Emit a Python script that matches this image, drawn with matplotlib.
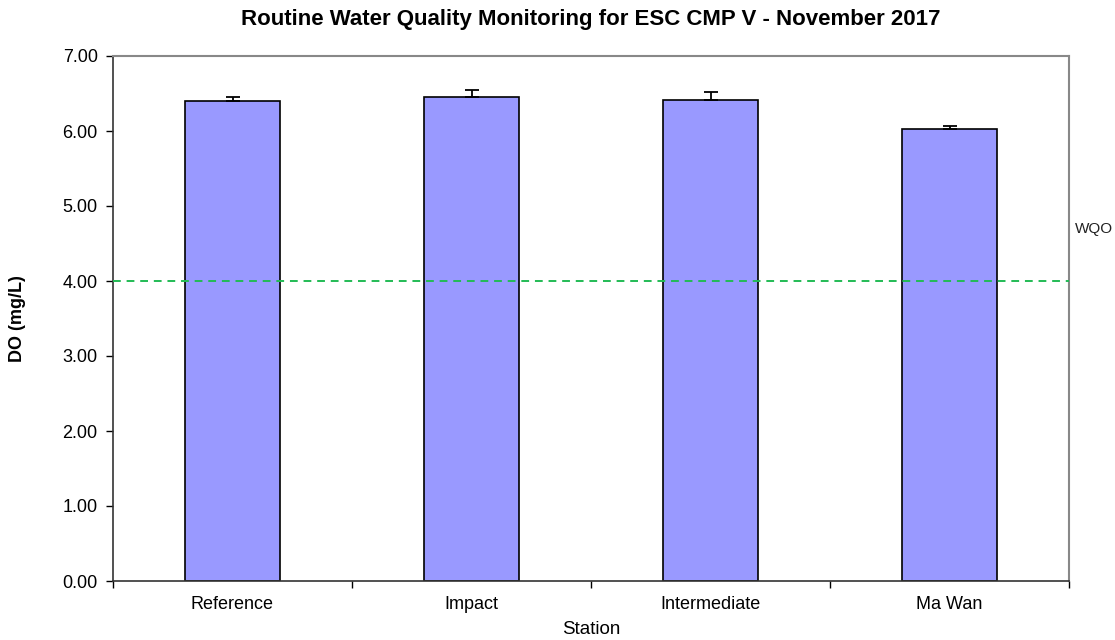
import matplotlib
matplotlib.use("Agg")
import matplotlib.pyplot as plt
import numpy as np

stations = ["Reference", "Impact", "Intermediate", "Ma Wan"]
do_mean = [6.40, 6.45, 6.42, 6.03]
do_err = [0.06, 0.10, 0.10, 0.04]
wqo = 4.0
yticks = [0, 1, 2, 3, 4, 5, 6, 7]

plt.rcParams['font.family'] = ['Liberation Sans', 'DejaVu Sans']

fig = plt.figure(figsize=(11.15, 6.4), dpi=100)
ax = fig.add_axes([113/1115, 1-581/640, 956/1115, 525/640])

x = np.arange(len(stations))
ax.bar(x, do_mean, width=0.4, color="#9999ff", edgecolor="black", linewidth=1.2, zorder=2)
ax.errorbar(x, do_mean, yerr=[np.zeros(len(do_err)), do_err], fmt="none",
            ecolor="black", elinewidth=1.3, capsize=5, capthick=1.3, zorder=3)

ax.axhline(wqo, color="#22bb55", linestyle=(0, (4, 3)), linewidth=1.4, zorder=4)
ax.text(1.0 + 6/956, 4.7, "WQO", transform=ax.get_yaxis_transform(), fontsize=11,
        va="center", ha="left", color="#222222")

ax.set_xlim(-0.5, len(stations) - 0.5)
ax.set_ylim(0, 7)
ax.set_yticks(yticks)
ax.set_yticklabels([f"{v:.2f}" for v in yticks], fontsize=13)
ax.set_xticks(x)
ax.set_xticklabels(stations, fontsize=13)
ax.tick_params(axis="x", length=0, pad=11)
ax.set_xticks(np.arange(-0.5, len(stations)), minor=True)
ax.tick_params(axis="x", which="minor", length=5, width=1, direction="out")
ax.tick_params(axis="y", length=5, width=1, direction="out", pad=6)

for s in ["left", "bottom"]:
    ax.spines[s].set_color("#333333")
    ax.spines[s].set_linewidth(1.2)
for s in ["top", "right"]:
    ax.spines[s].set_color("#888888")
    ax.spines[s].set_linewidth(1.5)

ax.set_xlabel("Station", fontsize=13.5)
ax.xaxis.set_label_coords(0.5, -(630 - 581) / 525)
ax.xaxis.label.set_va("center")
ax.set_ylabel("DO (mg/L)", fontsize=13, fontweight="bold")
ax.yaxis.set_label_coords(-(113 - 17) / 956, 0.5)
ax.yaxis.label.set_va("center")
fig.text(591/1115, 1-20/640, "Routine Water Quality Monitoring for ESC CMP V - November 2017",
         ha="center", va="center", fontsize=16, fontweight="bold")

fig.savefig("out.png", dpi=100)
